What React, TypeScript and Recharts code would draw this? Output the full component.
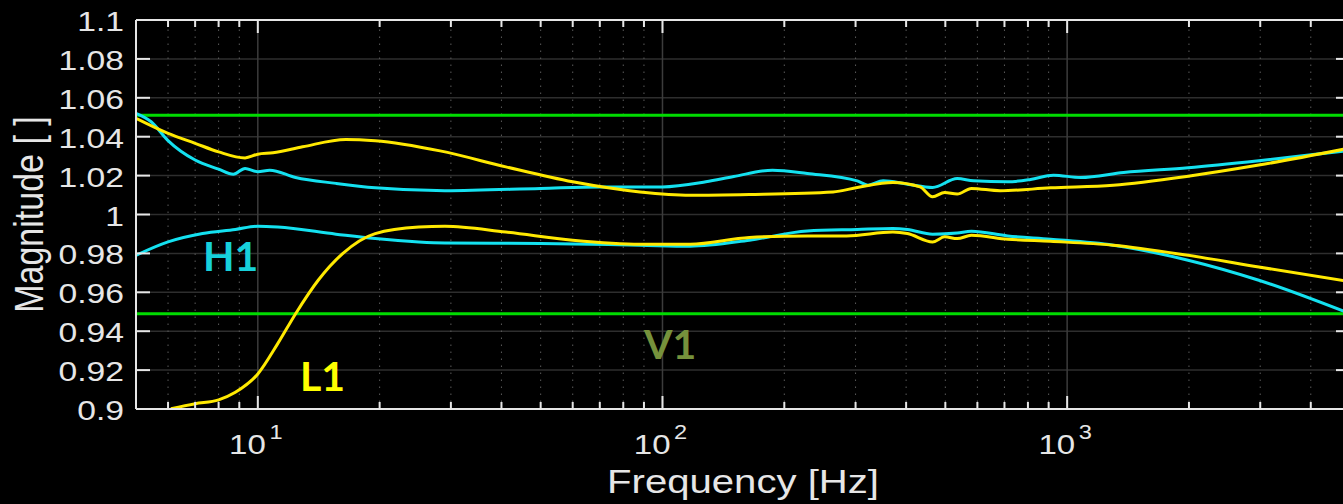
import { LineChart, Line, XAxis, YAxis, CartesianGrid, ReferenceLine } from "recharts";

// frequency [Hz] / magnitude pairs
const h1UpperFreq = [5, 5.45, 6, 7, 8, 8.7, 9.3, 10, 10.7, 12.4, 15.6, 19.5, 29, 50, 70, 100, 128, 150, 187, 228, 303, 322, 351, 403, 465, 535, 587, 713, 812, 925, 1080, 1379, 1990, 2976, 5000];
const h1UpperMag = [1.052, 1.0477, 1.038, 1.028, 1.0233, 1.0207, 1.0237, 1.022, 1.0228, 1.019, 1.016, 1.0137, 1.0122, 1.0134, 1.0142, 1.0142, 1.0168, 1.0195, 1.0228, 1.0211, 1.0173, 1.0151, 1.0173, 1.0156, 1.0139, 1.0185, 1.0173, 1.0168, 1.018, 1.0202, 1.019, 1.0216, 1.024, 1.0276, 1.033];

const l1UpperFreq = [5, 6, 7, 8, 9.3, 10, 10.9, 12.9, 16.5, 19.5, 28.2, 41, 60, 88, 117, 164, 264, 303, 371, 433, 465, 498, 535, 580, 683, 910, 1300, 1990, 2976, 5000];
const l1UpperMag = [1.0494, 1.0417, 1.0366, 1.0322, 1.0291, 1.031, 1.0317, 1.0348, 1.0386, 1.0379, 1.0327, 1.0245, 1.0168, 1.0116, 1.0099, 1.0103, 1.0116, 1.0139, 1.0165, 1.0142, 1.0091, 1.0113, 1.0105, 1.0134, 1.0122, 1.0137, 1.0151, 1.0197, 1.0254, 1.0342];

const h1LowerFreq = [5, 6, 7.3, 8.8, 10, 11.2, 15.6, 19.5, 25, 29, 50, 88, 117, 164, 228, 303, 371, 403, 465, 535, 580, 713, 910, 1300, 1990, 2976, 5000];
const h1LowerMag = [0.979, 0.9859, 0.9902, 0.9923, 0.994, 0.9936, 0.9899, 0.9876, 0.9859, 0.9854, 0.9851, 0.9842, 0.9837, 0.9868, 0.9915, 0.9923, 0.9928, 0.9923, 0.9899, 0.9905, 0.9914, 0.989, 0.9873, 0.9842, 0.9765, 0.9662, 0.949];

const l1LowerFreq = [6.1, 7, 8, 8.8, 10, 11.2, 12.4, 14.1, 16.2, 19.5, 25, 29, 41, 60, 88, 117, 164, 228, 285, 371, 403, 465, 498, 535, 580, 713, 910, 1300, 1990, 2976, 5000];
const l1LowerMag = [0.9001, 0.9027, 0.9047, 0.9086, 0.918, 0.9336, 0.949, 0.9662, 0.9799, 0.9902, 0.9936, 0.994, 0.991, 0.9868, 0.9847, 0.9847, 0.9882, 0.989, 0.989, 0.991, 0.9902, 0.9859, 0.9885, 0.9876, 0.9893, 0.9873, 0.9862, 0.9842, 0.979, 0.973, 0.9655];

const limits = [1.051, 0.949];

const freqDomain = [5, 5000];
const decadeTicks = [10, 100, 1000];
const minorTicks = [6, 7, 8, 9, 20, 30, 40, 50, 60, 70, 80, 90, 200, 300, 400, 500, 600, 700, 800, 900, 2000, 3000, 4000];
const magTicks = [0.9, 0.92, 0.94, 0.96, 0.98, 1, 1.02, 1.04, 1.06, 1.08, 1.1];

const axisColor = "#e6e6e6";
const cyan = "#14e1f0";
const yellow = "#ffe900";
const green = "#00dc00";
const stretch = 1.18;
const tickFont = "'Liberation Sans', Arial, Helvetica, sans-serif";

const toPoints = (freq: number[], mag: number[]) => freq.map((f, i) => ({ f, v: mag[i] }));

function FreqTick(props: any) {
  const { x, y, payload, side } = props;
  const major = decadeTicks.includes(payload.value);
  const len = major ? 13 : 7;
  const dir = side === "top" ? 1 : -1;
  const exp = Math.round(Math.log10(payload.value));
  return (
    <g>
      <line x1={x} y1={y} x2={x} y2={y + dir * len} stroke={axisColor} strokeWidth={2} />
      {major && side === "bottom" && (
        <text
          transform={`translate(${x - 2},${y + 45}) scale(${stretch},1)`}
          textAnchor="middle"
          fill={axisColor}
          fontFamily={tickFont}
          fontSize={28}
        >
          10
          <tspan dx={3} dy={-15} fontSize={20}>
            {exp}
          </tspan>
        </text>
      )}
    </g>
  );
}

function MagTick(props: any) {
  const { x, y, payload, side } = props;
  const dir = side === "left" ? 1 : -1;
  return (
    <g>
      <line x1={x} y1={y} x2={x + dir * 14} y2={y} stroke={axisColor} strokeWidth={2} />
      {side === "left" && (
        <text
          transform={`translate(${x - 12},${y + 11}) scale(${stretch},1)`}
          textAnchor="end"
          fill={axisColor}
          fontFamily={tickFont}
          fontSize={28.5}
        >
          {String(Number(payload.value.toFixed(2)))}
        </text>
      )}
    </g>
  );
}

function FreqLabel(props: any) {
  const { x, y, width } = props.viewBox;
  return (
    <text
      transform={`translate(${x + width / 2},${y + 84}) scale(${stretch},1)`}
      textAnchor="middle"
      fill={axisColor}
      fontFamily={tickFont}
      fontSize={34}
    >
      Frequency [Hz]
    </text>
  );
}

function MagLabel(props: any) {
  const { y, height } = props.viewBox;
  return (
    <text
      transform={`translate(43,${y + height / 2}) scale(${stretch},1) rotate(-90)`}
      textAnchor="middle"
      fill={axisColor}
      fontFamily={tickFont}
      fontSize={34}
    >
      Magnitude [ ]
    </text>
  );
}

export default function App() {
  const label = {
    position: "absolute" as const,
    fontFamily: "Lato, 'Open Sans', sans-serif",
    fontWeight: 700,
    fontSize: 41,
    lineHeight: 1,
    margin: 0,
  };
  return (
    <div
      style={{
        position: "absolute",
        left: 0,
        top: 0,
        width: 1343,
        height: 504,
        overflow: "hidden",
        background: "#000",
      }}
    >
      <LineChart width={1360} height={504} margin={{ top: 19, right: 0, bottom: 0, left: 0 }}>
        <XAxis
          xAxisId="bottom"
          dataKey="f"
          type="number"
          scale="log"
          domain={freqDomain}
          allowDataOverflow
          ticks={[...decadeTicks, ...minorTicks]}
          interval={0}
          height={95}
          tickSize={0}
          tickMargin={0}
          tickLine={false}
          tick={(p: any) => <FreqTick {...p} side="bottom" />}
          axisLine={{ stroke: axisColor, strokeWidth: 2 }}
          label={FreqLabel}
        />
        <XAxis
          xAxisId="top"
          orientation="top"
          dataKey="f"
          type="number"
          scale="log"
          domain={freqDomain}
          allowDataOverflow
          ticks={[...decadeTicks, ...minorTicks]}
          interval={0}
          height={1}
          tickSize={0}
          tickMargin={0}
          tickLine={false}
          tick={(p: any) => <FreqTick {...p} side="top" />}
          axisLine={{ stroke: axisColor, strokeWidth: 2 }}
        />
        <YAxis
          yAxisId="left"
          type="number"
          domain={[0.9, 1.1]}
          allowDataOverflow
          ticks={magTicks}
          interval={0}
          width={136}
          tickSize={0}
          tickMargin={0}
          tickLine={false}
          tick={(p: any) => <MagTick {...p} side="left" />}
          axisLine={{ stroke: axisColor, strokeWidth: 2 }}
          label={MagLabel}
        />
        <YAxis
          yAxisId="right"
          orientation="right"
          type="number"
          domain={[0.9, 1.1]}
          allowDataOverflow
          ticks={magTicks}
          interval={0}
          width={10}
          tickSize={0}
          tickMargin={0}
          tickLine={false}
          tick={(p: any) => <MagTick {...p} side="right" />}
          axisLine={{ stroke: axisColor, strokeWidth: 2 }}
        />
        <CartesianGrid xAxisId="bottom" yAxisId="left" vertical={false} stroke="#2e2e2e" strokeWidth={1.5} />
        {minorTicks.map((f) => (
          <ReferenceLine
            key={`m${f}`}
            x={f}
            xAxisId="bottom"
            yAxisId="left"
            stroke="#5a5a5a"
            strokeWidth={1}
            strokeDasharray="1.5 5.5"
          />
        ))}
        {decadeTicks.map((f) => (
          <ReferenceLine key={`d${f}`} x={f} xAxisId="bottom" yAxisId="left" stroke="#3c3c3c" strokeWidth={1.5} />
        ))}
        {limits.map((v) => (
          <ReferenceLine key={`g${v}`} y={v} xAxisId="bottom" yAxisId="left" stroke={green} strokeWidth={3} />
        ))}
        <Line
          data={toPoints(h1UpperFreq, h1UpperMag)}
          dataKey="v"
          xAxisId="bottom"
          yAxisId="left"
          type="monotone"
          stroke={cyan}
          strokeWidth={3}
          dot={false}
          isAnimationActive={false}
        />
        <Line
          data={toPoints(h1LowerFreq, h1LowerMag)}
          dataKey="v"
          xAxisId="bottom"
          yAxisId="left"
          type="monotone"
          stroke={cyan}
          strokeWidth={3}
          dot={false}
          isAnimationActive={false}
        />
        <Line
          data={toPoints(l1UpperFreq, l1UpperMag)}
          dataKey="v"
          xAxisId="bottom"
          yAxisId="left"
          type="monotone"
          stroke={yellow}
          strokeWidth={3}
          dot={false}
          isAnimationActive={false}
        />
        <Line
          data={toPoints(l1LowerFreq, l1LowerMag)}
          dataKey="v"
          xAxisId="bottom"
          yAxisId="left"
          type="monotone"
          stroke={yellow}
          strokeWidth={3}
          dot={false}
          isAnimationActive={false}
        />
      </LineChart>
      <p style={{ ...label, left: 203, top: 235, color: "#17d1db" }}>H1</p>
      <p style={{ ...label, left: 300, top: 355, color: "#ffff00" }}>L1</p>
      <p style={{ ...label, left: 644, top: 323, color: "#76923c" }}>V1</p>
    </div>
  );
}
